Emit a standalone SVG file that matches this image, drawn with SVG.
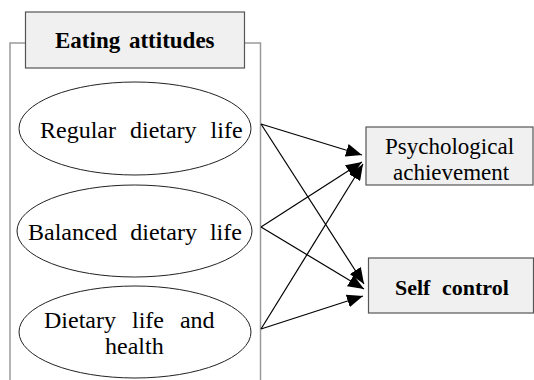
<svg xmlns="http://www.w3.org/2000/svg" width="534" height="380" viewBox="0 0 534 380">
<style>
.frame{fill:none;stroke:#9a9a9a;stroke-width:1.5}
.box{fill:#f0f0f0;stroke:#555555;stroke-width:1.2}
.ell{fill:#ffffff;stroke:#222222;stroke-width:1}
.edge{fill:none;stroke:#000000;stroke-width:1.2;marker-end:url(#ah)}
</style>
<defs>
<marker id="ah" markerUnits="userSpaceOnUse" markerWidth="17" markerHeight="13" refX="16" refY="6.5" orient="auto">
<path d="M0,0 L16,6.5 L0,13 z" fill="#000000"/>
</marker>
</defs>
<rect x="0" y="0" width="534" height="380" fill="#ffffff"/>
<g id="frame">
<path class="frame" d="M25.5,43 H10 V380 M244.5,43 H260.5 V380"/>
</g>
<g id="eating-attitudes">
<rect class="box" x="25.5" y="12" width="219" height="56"/>
<text x="55" y="48" font-family="Liberation Serif" font-weight="bold" font-size="23" word-spacing="3">Eating attitudes</text>
</g>
<g id="regular">
<ellipse class="ell" cx="135" cy="128.5" rx="116" ry="46.5"/>
<text x="40" y="138" font-family="Liberation Serif" font-size="24" word-spacing="8">Regular dietary life</text>
</g>
<g id="balanced">
<ellipse class="ell" cx="134.5" cy="231" rx="117.5" ry="46"/>
<text x="28" y="240" font-family="Liberation Serif" font-size="24" word-spacing="7">Balanced dietary life</text>
</g>
<g id="health">
<ellipse class="ell" cx="135" cy="332" rx="116" ry="46"/>
<text x="44" y="328" font-family="Liberation Serif" font-size="24" word-spacing="10">Dietary life and</text>
<text x="105" y="354" font-family="Liberation Serif" font-size="24">health</text>
</g>
<g id="psychological">
<rect class="box" x="366" y="127" width="167" height="58"/>
<text x="385" y="154" font-family="Liberation Serif" font-size="23">Psychological</text>
<text x="393" y="180" font-family="Liberation Serif" font-size="23">achievement</text>
</g>
<g id="self-control">
<rect class="box" x="368.5" y="258" width="165" height="55"/>
<text x="395" y="295" font-family="Liberation Serif" font-weight="bold" font-size="22" word-spacing="6">Self control</text>
</g>
<g id="connectors">
<line class="edge" x1="261" y1="124" x2="362" y2="155"/>
<line class="edge" x1="261" y1="227" x2="362" y2="162"/>
<line class="edge" x1="261" y1="329" x2="363" y2="164"/>
<line class="edge" x1="261" y1="124" x2="364" y2="284"/>
<line class="edge" x1="261" y1="227" x2="364" y2="289"/>
<line class="edge" x1="261" y1="329" x2="363" y2="296"/>
</g>
</svg>
